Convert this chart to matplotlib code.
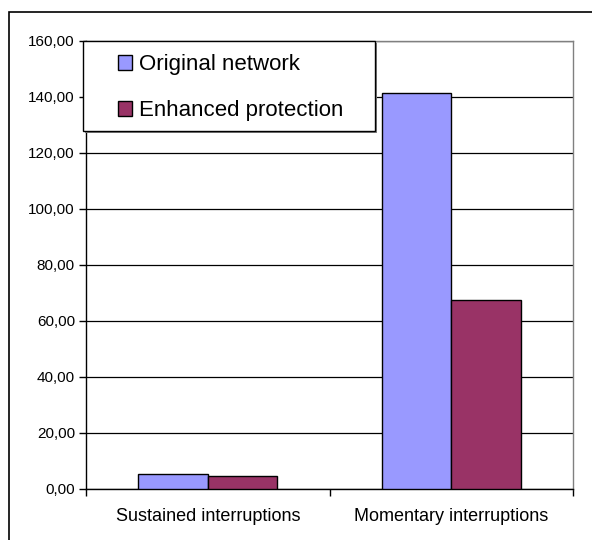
import numpy as np
import matplotlib.pyplot as plt
from matplotlib.patches import Rectangle
from matplotlib.ticker import FuncFormatter

plt.rcParams['font.family'] = ['Liberation Sans', 'DejaVu Sans']

categories = ['Sustained interruptions', 'Momentary interruptions']
original = [5.3, 141.4]
enhanced = [4.6, 67.4]
series_names = ['Original network', 'Enhanced protection']

fig = plt.figure(figsize=(5.92, 5.40), dpi=100)
ax = fig.add_axes([86/592, 51/540, 487/592, 448/540])

# outer chart border
fig.patches.append(Rectangle((9/592, -0.1), 1.0, 0.1 + 528/540, transform=fig.transFigure,
                             fill=False, edgecolor='black', linewidth=1.2, zorder=0))

x = np.arange(len(categories))
w = 1/3.5
ax.bar(x - w/2, original, w, color='#9999FF', edgecolor='black', linewidth=1, label=series_names[0], zorder=3)
ax.bar(x + w/2, enhanced, w, color='#993366', edgecolor='black', linewidth=1, label=series_names[1], zorder=3)

ax.set_xlim(-0.5, 1.5)
ax.set_ylim(0, 160)
ax.set_yticks(np.arange(0, 161, 20))
ax.yaxis.set_major_formatter(FuncFormatter(lambda v, p: f'{v:.2f}'.replace('.', ',')))
ax.set_xticks([-0.5, 0.5, 1.5])
ax.set_xticklabels([])
ax.set_xticks(x, minor=True)
ax.set_xticklabels(categories, minor=True, fontsize=13)
ax.tick_params(axis='x', which='minor', length=0, pad=14)
ax.tick_params(axis='x', which='major', length=5, direction='out', width=1)
ax.tick_params(axis='y', length=5, direction='out', width=1, labelsize=11, pad=3)

ax.grid(axis='y', color='black', linewidth=0.9, zorder=0)
for s in ['top', 'right']:
    ax.spines[s].set_color('#808080')
    ax.spines[s].set_linewidth(1)
for s in ['left', 'bottom']:
    ax.spines[s].set_linewidth(1)

# legend box with a thin shadow, drawn in pixels of the figure
px = lambda X, Y: (X/592, 1 - Y/540)
ax.add_patch(Rectangle(px(85, 133), 292/592, 90/540, transform=fig.transFigure, clip_on=False,
                       facecolor='#808080', edgecolor='none', zorder=4))
ax.add_patch(Rectangle(px(83, 131), 292/592, 90/540, transform=fig.transFigure, clip_on=False,
                       facecolor='white', edgecolor='black', linewidth=1, zorder=4.5))

leg = ax.legend(loc='upper left', bbox_to_anchor=px(118, 54), bbox_transform=fig.transFigure,
                borderaxespad=0, borderpad=0, fontsize=16, frameon=False,
                handlelength=0.64, handleheight=0.64, handletextpad=0.32, labelspacing=1.13)
leg.set_zorder(6)

fig.savefig('out.png', dpi=100)
